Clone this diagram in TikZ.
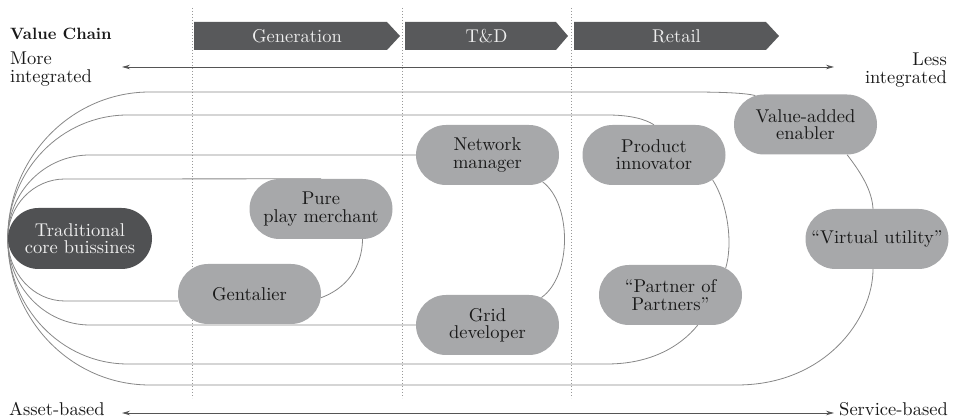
\documentclass[tikz,border=0pt]{standalone}
\usepackage{tikz}
\usetikzlibrary{arrows.meta,shapes.misc,backgrounds}
\definecolor{vcdark}{RGB}{80,81,83}
\definecolor{vcbar}{RGB}{88,89,91}
\definecolor{vcgray}{RGB}{167,168,170}
\definecolor{vcline}{RGB}{135,135,135}
\definecolor{vcaxis}{RGB}{85,85,85}
\font\vcrm="[lmroman10-regular]" at 18.5pt
\font\vcbf="[lmroman10-bold]" at 16.4pt
\newcommand{\vcfont}{\fontsize{18.5}{17.2}\selectfont\vcrm}
\newcommand{\vcbold}{\fontsize{16.4}{18}\selectfont\vcbf}
\tikzstyle{role} = [rounded rectangle, minimum width=143pt, minimum height=60pt, inner sep=0pt, align=center, fill=vcgray, text=black!90, font=\vcfont]
\tikzstyle{corerole} = [role, minimum width=144pt, minimum height=61pt, fill=vcdark, text=white!94!black]
\tikzstyle{phasetext} = [inner sep=0pt, text=white!93!black, font=\vcfont]
\tikzstyle{axistext} = [inner sep=0pt, text=black!90, font=\vcfont]
\tikzstyle{link} = [line width=0.8pt, color=vcline]
\tikzstyle{guide} = [line width=0.8pt, color=black!40, dash pattern=on 1pt off 2pt]
\tikzstyle{axis} = [line width=0.8pt, color=vcaxis, {Stealth[length=8pt,width=4.5pt]}-{Stealth[length=8pt,width=4.5pt]}]

\begin{document}
\begin{tikzpicture}[x=1pt,y=1pt]
\useasboundingbox (0,0) rectangle (959,419);

% Value chain phases
\fill[vcbar] (194,369) -- (387,369) -- (400,383) -- (387,397) -- (194,397) -- cycle;
\fill[vcbar] (405,369) -- (556,369) -- (568,383) -- (556,397) -- (405,397) -- cycle;
\fill[vcbar] (574,369) -- (766,369) -- (779,383) -- (766,397) -- (574,397) -- cycle;
\node[phasetext] (gen) at (297,383) {Generation};
\node[phasetext] (td) at (486.5,383) {T\&D};
\node[phasetext] (ret) at (676.5,383) {Retail};

% Axis labels
\node[axistext, font=\vcbold, anchor=base west] (vchain) at (10,379) {Value Chain};
\node[axistext, align=left, anchor=north west] (more) at (10,367) {More\\integrated};
\node[axistext, align=right, anchor=north east] (less) at (947,366) {Less\\integrated};
\node[axistext, anchor=base west] (asset) at (9,3.5) {Asset-based};
\node[axistext, anchor=base east] (service) at (948,3.5) {Service-based};
\coordinate (moreend) at (122,352);
\coordinate (lessend) at (834,352);
\coordinate (assetend) at (122,6);
\coordinate (serviceend) at (834,6);
\draw[axis] (moreend) -- (lessend);
\draw[axis] (assetend) -- (serviceend);

% Business models
\node[corerole] (trad) at (80,180.5) {Traditional\\core buissines};
\node[role] (pure) at (321,210) {Pure\\play merchant};
\node[role] (gent) at (249.5,125) {Gentalier};
\node[role] (netw) at (487.5,264) {Network\\manager};
\node[role] (grid) at (487.5,94) {Grid\\developer};
\node[role] (prod) at (654,264) {Product\\innovator};
\node[role] (ptnr) at (670.5,124) {“Partner of\\Partners”};
\node[role] (vae) at (805.5,294.5) {Value-added\\enabler};
\node[role] (virt) at (877,180) {“Virtual utility”};

\begin{scope}[on background layer]
% Phase borders
\draw[guide] (192,411) -- (192,21);
\draw[guide] (402,411) -- (402,21);
\draw[guide] (571,411) -- (571,21);

% Paths out of the core business
\draw[link] (trad.west) arc[start angle=180, end angle=90, x radius=142pt, y radius=146.5pt] -- (690,327) .. controls (722,327) and (745,326) .. (vae.150);
\draw[link] (trad.west) arc[start angle=180, end angle=90, x radius=120pt, y radius=123.5pt] -- (607,304) .. controls (630,304) and (645,300) .. (prod.north);
\draw[link] (trad.west) arc[start angle=180, end angle=90, x radius=82pt, y radius=83.5pt] -- (netw.west);
\draw[link] (trad.west) arc[start angle=180, end angle=90, x radius=57pt, y radius=59.5pt] -- (pure.north);
\draw[link] (trad.west) arc[start angle=180, end angle=270, x radius=57pt, y radius=62.5pt] -- ([yshift=-7pt]gent.west);
\draw[link] (trad.west) arc[start angle=180, end angle=270, x radius=82pt, y radius=86.5pt] -- (grid.west);
\draw[link] (trad.west) arc[start angle=180, end angle=270, x radius=120pt, y radius=125.5pt] -- (607,55) .. controls (650,55) and (680,72) .. (ptnr.-48);
\draw[link] (trad.west) arc[start angle=180, end angle=270, x radius=142pt, y radius=146.5pt] -- (737,34) .. controls (825,34) and (873,100) .. ([xshift=-4pt]virt.south);

% Paths between roles
\draw[link] (pure.-36) .. controls (362,150) and (345,130) .. (gent.-3);
\draw[link] (netw.-26) .. controls (572,215) and (572,143) .. (grid.27);
\draw[link] (prod.-23) .. controls (728,215) and (733,175) .. (ptnr.26);
\draw[link] (vae.-36) .. controls (862,245) and (872,228) .. ([xshift=-4pt]virt.north);
\end{scope}
\end{tikzpicture}
\end{document}
